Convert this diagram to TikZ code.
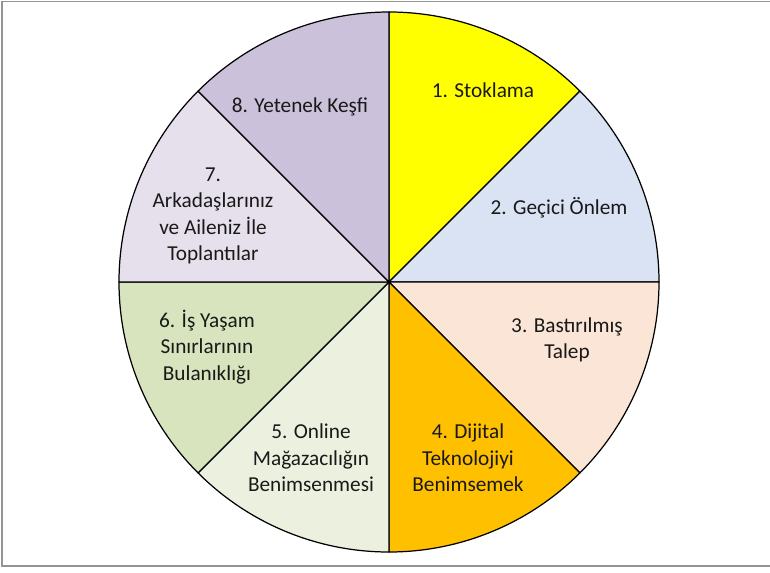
\documentclass[tikz,border=0pt]{standalone}
\usepackage{fontspec}
\setmainfont{Carlito}
\usepackage{tikz}
\usetikzlibrary{calc}
\usetikzlibrary{positioning}
\definecolor{stockfill}{HTML}{FFFF00}
\definecolor{tempfill}{HTML}{DAE3F3}
\definecolor{demandfill}{HTML}{FBE5D6}
\definecolor{digitalfill}{HTML}{FFC000}
\definecolor{onlinefill}{HTML}{EBF1DE}
\definecolor{blurfill}{HTML}{D7E4BD}
\definecolor{meetfill}{HTML}{E6E0EC}
\definecolor{talentfill}{HTML}{CCC1DA}
\tikzstyle{slice} = [draw=black, line width=0.7pt, line join=round]
\tikzstyle{slicetext} = [align=center, inner sep=0pt,
    font=\fontsize{12.1}{15.1}\selectfont, text=black!90]
\tikzstyle{frame} = [draw=gray!85, line width=1.1pt]

\begin{document}
\begin{tikzpicture}[x=0.02cm, y=0.02cm]
    % The page: 770 x 572 px, centre of the pie at (389,282)
    \useasboundingbox (-389,-290) rectangle (381,282);
    \draw [frame] (-387,280.5) rectangle (390,-284);

    % We start by drawing the eight slices, clockwise from the top
    \coordinate (centre) at (0,0);
    \foreach \col [count=\i] in {stockfill,tempfill,demandfill,digitalfill,
                                 onlinefill,blurfill,meetfill,talentfill} {
        \pgfmathsetmacro{\a}{90-45*(\i-1)}
        \filldraw [slice, fill=\col] (centre) -- (\a:270)
            arc [start angle=\a, end angle=\a-45, radius=270] -- cycle;
    }

    % Once the slices are there, the texts go on top
    \node [slicetext] (stock)   at (94,192)   {1. Stoklama};
    \node [slicetext] (temp)    at (170,74)   {2. Geçici Önlem};
    \node [slicetext] (demand)  at (178,-58)  {3. Bastırılmış\\Talep};
    \node [slicetext] (digital) at (79,-176)  {4. Dijital\\Teknolojiyi\\Benimsemek};
    \node [slicetext] (online)  at (-78,-176) {5. Online\\Mağazacılığın\\Benimsenmesi};
    \node [slicetext] (blur)    at (-182,-65) {6. İş Yaşam\\Sınırlarının\\Bulanıklığı};
    \node [slicetext] (meet)    at (-176,66)  {7.\\Arkadaşlarınız\\ve Aileniz İle\\Toplantılar};
    \node [slicetext] (talent)  at (-89,175)  {8. Yetenek Keşfi};
\end{tikzpicture}
\end{document}
